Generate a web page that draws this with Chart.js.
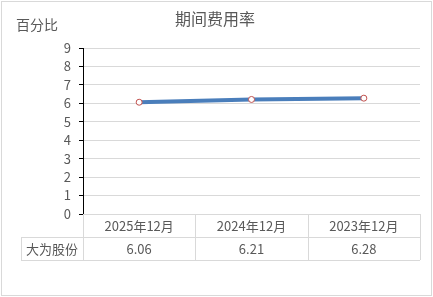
<!DOCTYPE html>
<html>
<head>
<meta charset="utf-8">
<script src="https://cdn.jsdelivr.net/npm/chart.js@4"></script>
<style>
  html, body { margin: 0; padding: 0; background: #fff; }
  #wrap { position: relative; width: 433px; height: 297px; }
  canvas { display: block; }
</style>
</head>
<body>
<div id="wrap"><canvas id="grafico" width="433" height="297"></canvas></div>
<script>
const categorias = ["2025年12月", "2024年12月", "2023年12月"];
const serieNome = "大为股份";
const valores = [6.06, 6.21, 6.28];
const yTicks = [0, 1, 2, 3, 4, 5, 6, 7, 8, 9];
const titulo = "期间费用率";
const unidade = "百分比";

const corTexto = "#595959";
const corGrade = "#d9d9d9";
const fonte = "'Microsoft YaHei', 'Noto Sans CJK SC', sans-serif";

// título, unidade, borda e tabela de dados
const extras = {
  id: "extras",
  afterDraw(chart) {
    const ctx = chart.ctx;
    const area = chart.chartArea;
    const x = chart.scales.x;
    ctx.save();

    // borda externa
    ctx.strokeStyle = "#d9d9d9";
    ctx.lineWidth = 1;
    ctx.strokeRect(1.5, 1.5, 430, 294);

    ctx.fillStyle = corTexto;
    ctx.textBaseline = "middle";
    ctx.textAlign = "center";
    ctx.font = "16px " + fonte;
    ctx.fillText(titulo, 215, 19);
    ctx.textAlign = "left";
    ctx.font = "14px " + fonte;
    ctx.fillText(unidade, 16, 25);

    // tabela
    const passo = x.getPixelForValue(1) - x.getPixelForValue(0);
    const topo = area.bottom;
    const h = 23;
    const esq = 21;
    ctx.strokeStyle = corGrade;
    ctx.beginPath();
    // linhas horizontais
    ctx.moveTo(area.left, topo + 0.5); ctx.lineTo(area.right, topo + 0.5);
    ctx.moveTo(esq, topo + h + 0.5); ctx.lineTo(area.right, topo + h + 0.5);
    ctx.moveTo(esq, topo + 2 * h + 0.5); ctx.lineTo(area.right, topo + 2 * h + 0.5);
    // linhas verticais
    ctx.moveTo(esq + 0.5, topo + h); ctx.lineTo(esq + 0.5, topo + 2 * h);
    for (let i = 0; i <= categorias.length; i++) {
      const px = Math.round(x.getPixelForValue(i) - passo / 2) + 0.5;
      ctx.moveTo(px, i === 0 ? topo + 1 : topo); ctx.lineTo(px, topo + 2 * h);
    }
    ctx.stroke();

    ctx.fillStyle = corTexto;
    ctx.font = "13px " + fonte;
    ctx.textAlign = "center";
    categorias.forEach((c, i) => {
      const px = x.getPixelForValue(i);
      ctx.fillText(c, px, topo + h / 2 + 1);
      ctx.fillText(valores[i].toFixed(2), px, topo + h * 1.5 + 1);
    });
    ctx.fillText(serieNome, (esq + area.left) / 2, topo + h * 1.5 + 1);
    ctx.restore();
  }
};

const ctx = document.getElementById("grafico").getContext("2d");
new Chart(ctx, {
  type: "line",
  data: {
    labels: categorias,
    datasets: [{
      label: serieNome,
      data: valores,
      borderColor: "#4a7ebb",
      borderWidth: 4,
      pointRadius: 3,
      pointBorderWidth: 1,
      pointBorderColor: "#c0504d",
      pointBackgroundColor: "#ffffff",
      tension: 0
    }]
  },
  options: {
    responsive: false,
    animation: false,
    layout: { padding: { left: 0, right: 13, top: 48, bottom: 83 } },
    plugins: {
      legend: { display: false },
      title: { display: false },
      tooltip: { enabled: false }
    },
    scales: {
      x: {
        display: false,
        offset: true
      },
      y: {
        min: 0,
        max: 9,
        afterFit(scale) { scale.width = 83; },
        afterBuildTicks(scale) { scale.ticks = yTicks.map(v => ({ value: v })); },
        border: { color: "#000000", width: 1 },
        grid: {
          color: corGrade,
          tickColor: "#000000",
          tickLength: 4
        },
        ticks: {
          autoSkip: false,
          stepSize: 1,
          color: corTexto,
          padding: 8,
          font: { size: 13, family: fonte }
        }
      }
    }
  },
  plugins: [extras]
});
</script>
</body>
</html>
